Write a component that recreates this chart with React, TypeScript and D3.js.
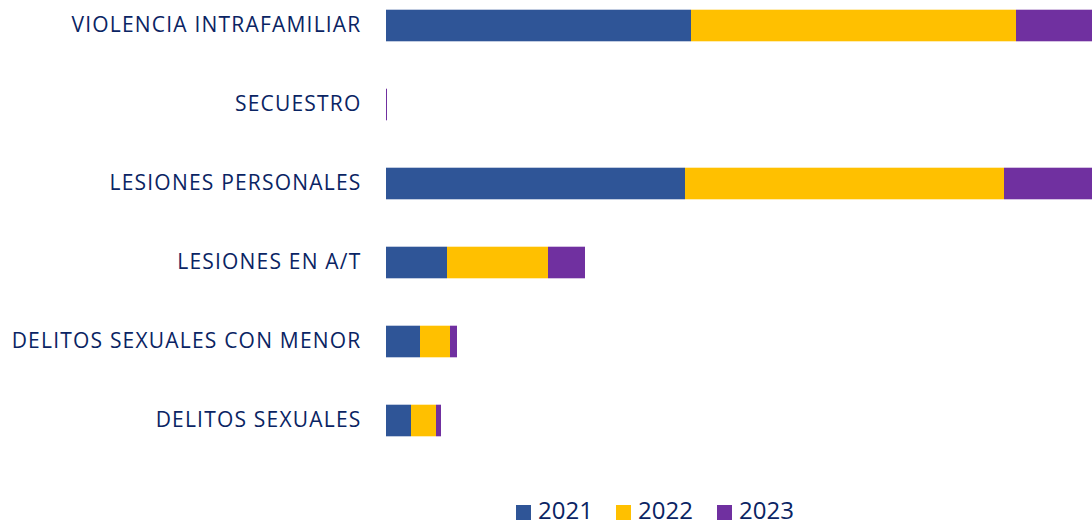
import React from 'react';
import * as d3 from 'd3';

const categories = [
  'VIOLENCIA INTRAFAMILIAR',
  'SECUESTRO',
  'LESIONES PERSONALES',
  'LESIONES EN A/T',
  'DELITOS SEXUALES CON MENOR',
  'DELITOS SEXUALES',
];
const years = ['2021', '2022', '2023'];
const v2021 = [305, 0, 299, 61, 34, 25];
const v2022 = [325, 0, 319, 101, 30, 25];
const v2023 = [150, 1, 140, 37, 7, 5];

const colors = ['#2F5597', '#FFC000', '#7030A0'];
const textColor = '#0A2463';

export default function App() {
  const width = 1092;
  const height = 525;
  const left = 386;

  const x = d3.scaleLinear().domain([0, 800]).range([left, left + 800]);
  const y = d3.scaleBand().domain(categories).range([-14, 460]).paddingInner(0.6).paddingOuter(0.3);

  const rows = categories.map((c, i) => ({ cat: c, '2021': v2021[i], '2022': v2022[i], '2023': v2023[i] }));
  const stacked = d3.stack<any>().keys(years)(rows);

  const legendX = [516, 616, 717];

  return (
    <svg width={width} height={height} style={{ position: 'absolute', left: 0, top: 0, overflow: 'hidden' }}
      fontFamily="'Open Sans', sans-serif">
      {stacked.map((layer, k) => (
        <g key={layer.key} fill={colors[k]}>
          {layer.map((d, i) => (
            <rect key={i} x={x(d[0])} y={y(categories[i])} width={Math.max(0, x(d[1]) - x(d[0]))}
              height={y.bandwidth()} />
          ))}
        </g>
      ))}
      {categories.map(c => (
        <text key={c} x={361.5} y={y(c)! + y.bandwidth() / 2 + 6.5} textAnchor="end"
          fontSize={21} letterSpacing={1.2} fill={textColor}>{c}</text>
      ))}
      {years.map((yr, k) => (
        <g key={yr} transform={`translate(${legendX[k]},519)`}>
          <rect x={0} y={-14} width={15} height={15} fill={colors[k]} />
          <text x={22} fontSize={24} fill={textColor}>{yr}</text>
        </g>
      ))}
    </svg>
  );
}
